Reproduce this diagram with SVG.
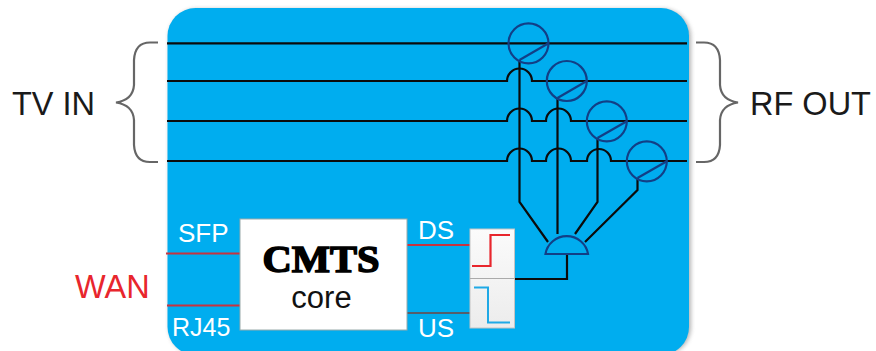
<svg xmlns="http://www.w3.org/2000/svg" width="876" height="351" viewBox="0 0 876 351">
<defs>
<linearGradient id="fg" x1="0" y1="0" x2="0" y2="1"><stop offset="0" stop-color="#fbfbfb"/><stop offset="1" stop-color="#ececec"/></linearGradient>
<filter id="sh" x="-5%" y="-5%" width="110%" height="110%"><feGaussianBlur stdDeviation="2"/></filter>
</defs>
<style>
text{font-family:"Liberation Sans",Arial,sans-serif}
.w{fill:#fff;font-size:26px}
.l{fill:#1a1a1a;font-size:32.500px}
.k{fill:none;stroke:#0b0b0b;stroke-width:2.2}
.c{fill:none;stroke:#123f86;stroke-width:2.2}
.b{fill:none;stroke:#666;stroke-width:2.2}
</style>
<rect width="876" height="351" fill="#fff"/>
<g id="panel">
<rect x="169" y="9" width="522" height="346" rx="28" fill="#777" opacity=".55" filter="url(#sh)"/>
<rect x="167.500" y="8" width="521.500" height="347" rx="28" fill="#00adef"/>
</g>
<g id="connectors">
<path class="k" d="M167 43.300H687M167 81H507a12.500 12.500 0 0 1 25 0H687M167 121H507a12.500 12.500 0 0 1 25 0H546a12.500 12.500 0 0 1 25 0H687M167 161H507a12.500 12.500 0 0 1 25 0H546a12.500 12.500 0 0 1 25 0H587a12 12 0 0 1 24 0H687"/>
<path class="k" d="M519.500 60V202L548 242M557.500 98V234M597.500 138V202L575 234M637.500 178V190L585 242M567 254V279H514"/>
<path d="M166 253.500H240M167 305.500H240M407 245H470" fill="none" stroke="#c8333f" stroke-width="2"/>
<path d="M407 313H470" fill="none" stroke="#555e6b" stroke-width="2"/>
</g>
<g id="brace-left"><path class="b" d="M158 42.500H150Q135 42.500 134 60V85Q133 100 116 102.500Q133 105 134 120V145Q135 162 150 162H158"/></g>
<g id="brace-right"><path class="b" d="M696 42.500H704Q719 42.500 720 60V85Q721 100 738 102.500Q721 105 720 120V145Q719 162 704 162H696"/></g>
<g id="tv-in"><text class="l" x="12" y="115">TV IN</text></g>
<g id="rf-out"><text class="l" x="750" y="115">RF OUT</text></g>
<g id="wan"><text x="75" y="298" fill="#e8262d" font-size="32.500">WAN</text></g>
<g id="coupler1"><circle class="c" cx="528.500" cy="43.300" r="20"/><path class="c" d="M548.500 43.300L519.500 60"/></g>
<g id="coupler2"><circle class="c" cx="566.800" cy="81" r="20"/><path class="c" d="M586.800 81L557.500 98"/></g>
<g id="coupler3"><circle class="c" cx="606.800" cy="121.300" r="20"/><path class="c" d="M626.800 121.300L597.500 138"/></g>
<g id="coupler4"><circle class="c" cx="646.800" cy="161.300" r="20"/><path class="c" d="M666.800 161.300L637.500 178"/></g>
<g id="combiner"><path d="M545.500 254A21.500 21 0 0 1 588 254Z" fill="#00adef" stroke="#123f86" stroke-width="2.200"/></g>
<g id="cmts">
<rect x="240" y="219" width="167" height="111" fill="#fff" stroke="#9aa" stroke-width="1"/>
<text x="321" y="272" text-anchor="middle" font-size="38" font-weight="700" style="font-family:'Liberation Serif',serif" fill="#000" stroke="#000" stroke-width="1.500" textLength="117" lengthAdjust="spacingAndGlyphs">CMTS</text>
<text x="321.500" y="308" text-anchor="middle" font-size="31" fill="#111">core</text>
</g>
<g id="filter">
<rect x="470" y="229" width="44.500" height="99" fill="url(#fg)" stroke="#c4c4c4" stroke-width="1"/>
<path d="M470 278.500H514.500" stroke="#aaa" stroke-width="1"/>
<path d="M472 266H490.500V235H510" fill="none" stroke="#e8262d" stroke-width="2.200"/>
<path d="M474 287.500H488V322.500H510" fill="none" stroke="#1fa9e6" stroke-width="2"/>
</g>
<g id="labels">
<text class="w" x="178" y="242">SFP</text>
<text class="w" x="172" y="336" style="font-size:25px">RJ45</text>
<text class="w" x="418" y="239">DS</text>
<text class="w" x="418" y="337">US</text>
</g>
</svg>
